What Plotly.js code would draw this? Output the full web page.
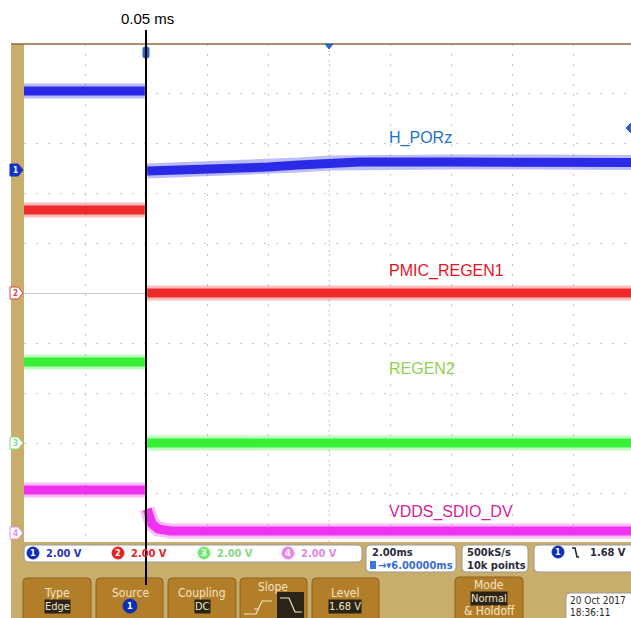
<!DOCTYPE html>
<html>
<head>
<meta charset="utf-8">
<script src="https://cdn.plot.ly/plotly-3.0.1.min.js"></script>
<style>html,body{margin:0;padding:0;background:#fff;overflow:hidden}#chart{width:631px;height:618px}</style>
</head>
<body>
<div id="chart"></div>
<script>
// ---- data (time in ms relative to trigger, level in screen divisions) ----
// null marks the break hidden behind the cursor line
var ch1Time  = [-4, -0.04, null, 0.04, 1, 2, 3, 4, 5, 6, 7, 10, 13, 15.9];
var ch1Level = [4.04, 4.04, null, 2.44, 2.45, 2.46, 2.48, 2.52, 2.56, 2.6, 2.62, 2.62, 2.62, 2.61];
var ch2Time  = [-4, -0.04, null, 0.04, 15.9];
var ch2Level = [1.66, 1.66, null, 0.0, 0.0];
var ch3Time  = [-4, -0.04, null, 0.04, 15.9];
var ch3Level = [-1.38, -1.38, null, -3.0, -3.0];
var ch4Time  = [-4, -0.04, null, 0.04, 0.1, 0.2, 0.4, 0.8, 15.9];
var ch4Level = [-3.94, -3.94, null, -4.32, -4.5, -4.62, -4.72, -4.76, -4.76];
var names = ["H_PORz", "PMIC_REGEN1", "REGEN2", "VDDS_SDIO_DV"];
var scaleLabels = ["2.00 V", "2.00 V", "2.00 V", "2.00 V"];
var cursorLabel = "0.05 ms";
var timebase = ["2.00ms", "6.00000ms"];
var acq = ["500kS/s", "10k points"];
var trigLevel = "1.68 V";
var dateTime = ["20 Oct 2017", "18:36:11"];

// ---- geometry helpers (pixel -> paper) ----
var L = 24, T = 44, PB = 542, PR = 631;
var pw = PR - L, ph = PB - T;
function X(px){ return (px - L) / pw; }
function Y(py){ return (PB - py) / ph; }

var colors = ["#2323e6", "#ee2222", "#2ef02e", "#ee2aee"];
var labelColors = ["#1a74cc", "#e8141e", "#8fd150", "#d91c9c"];

var times = [ch1Time, ch2Time, ch3Time, ch4Time];
var levels = [ch1Level, ch2Level, ch3Level, ch4Level];
var traces = [];
for (var i = 0; i < 4; i++) {
  traces.push({x: times[i], y: levels[i], type: 'scatter', mode: 'lines', hoverinfo: 'skip', connectgaps: false,
    line: {color: colors[i], width: 15}, opacity: 0.3, showlegend: false});
  traces.push({x: times[i], y: levels[i], type: 'scatter', mode: 'lines', hoverinfo: 'skip', connectgaps: false,
    line: {color: colors[i], width: 9}, opacity: 0.95, showlegend: false});
}

var UI = "'DejaVu Sans Condensed', 'Liberation Sans Narrow', 'DejaVu Sans', sans-serif";
var shapes = [];
var anns = [];
function rect(x0, y0, x1, y1, fill, lc, lw, layer){
  shapes.push({type: 'rect', xref: 'paper', yref: 'paper', x0: X(x0), x1: X(x1), y0: Y(y1), y1: Y(y0),
    fillcolor: fill, line: {color: lc || fill, width: lw === undefined ? 0 : lw}, layer: layer || 'above'});
}
function rrect(x0, y0, x1, y1, r, fill, lc, lw){
  var p = 'M' + X(x0 + r) + ',' + Y(y0) + ' L' + X(x1 - r) + ',' + Y(y0) +
    ' Q' + X(x1) + ',' + Y(y0) + ' ' + X(x1) + ',' + Y(y0 + r) +
    ' L' + X(x1) + ',' + Y(y1 - r) + ' Q' + X(x1) + ',' + Y(y1) + ' ' + X(x1 - r) + ',' + Y(y1) +
    ' L' + X(x0 + r) + ',' + Y(y1) + ' Q' + X(x0) + ',' + Y(y1) + ' ' + X(x0) + ',' + Y(y1 - r) +
    ' L' + X(x0) + ',' + Y(y0 + r) + ' Q' + X(x0) + ',' + Y(y0) + ' ' + X(x0 + r) + ',' + Y(y0) + ' Z';
  shapes.push({type: 'path', xref: 'paper', yref: 'paper', path: p, fillcolor: fill,
    line: {color: lc || fill, width: lw || 0}, layer: 'above'});
}
function pathPx(pts, color, w){
  var p = '';
  for (var k = 0; k < pts.length; k++) p += (k ? ' L' : 'M') + X(pts[k][0]) + ',' + Y(pts[k][1]);
  shapes.push({type: 'path', xref: 'paper', yref: 'paper', path: p, line: {color: color, width: w}, layer: 'above'});
}
function circ(cx, cy, r, fill, lc){
  shapes.push({type: 'circle', xref: 'paper', yref: 'paper', x0: X(cx - r), x1: X(cx + r), y0: Y(cy + r), y1: Y(cy - r),
    fillcolor: fill, line: {color: lc || fill, width: 1}, layer: 'above'});
}
function ann(px, py, text, size, color, o){
  o = o || {};
  var a = {xref: 'paper', yref: 'paper', x: X(px), y: Y(py), text: text, showarrow: false,
    font: {family: o.family || UI, size: size, color: color},
    xanchor: o.xanchor || 'center', yanchor: 'middle', borderpad: 0};
  if (o.bg) { a.bgcolor = o.bg; }
  anns.push(a);
}

// frame: left strip and bottom panel
var TAN = '#c8ad6b';
rect(11, 44, 24, 542, TAN);
rect(11, 542, 631, 618, TAN);
pathPx([[11, 44], [631, 44]], '#8c6a3c', 1.5);
// center vertical axis line
shapes.push({type: 'line', xref: 'x', yref: 'paper', x0: 6, x1: 6, y0: 0, y1: 1, line: {color: '#c8c8c8', width: 1, dash: '2px,8px'}, layer: 'below'});

// status boxes
rrect(24, 545, 362, 562, 5, '#ffffff', '#9a9a9a', 1);
rrect(366, 545, 456, 572, 5, '#ffffff', '#9a9a9a', 1);
rrect(462, 545, 528, 572, 5, '#ffffff', '#9a9a9a', 1);
rrect(534, 545, 640, 572, 5, '#ffffff', '#9a9a9a', 1);

var badgeFill = ['#0b2fb8', '#e02424', '#72ea72', '#ea86ea'];
var scaleCol = ['#2536b8', '#e02424', '#86d886', '#e08ae0'];
var badgeX = [33, 118, 204, 288];
for (var i = 0; i < 4; i++) {
  circ(badgeX[i], 553, 6, badgeFill[i]);
  ann(badgeX[i], 553, '<b>' + (i + 1) + '</b>', 9, '#ffffff');
  ann(badgeX[i] + 12, 553, '<b>' + scaleLabels[i] + '</b>', 11, scaleCol[i], {xanchor: 'left'});
}
ann(371, 552, '<b>' + timebase[0] + '</b>', 11, '#2a2a3a', {xanchor: 'left'});
rect(370, 561, 376, 569, '#3a78d8');
ann(377, 565, '<b>\u2192\u25BE' + timebase[1] + '</b>', 11, '#3a6ed0', {xanchor: 'left'});
ann(466, 552, '<b>' + acq[0] + '</b>', 11, '#2a2a3a', {xanchor: 'left'});
ann(466, 565, '<b>' + acq[1] + '</b>', 11, '#2a2a3a', {xanchor: 'left'});
circ(558, 552, 6, '#0b2fb8');
ann(558, 552, '<b>1</b>', 9, '#ffffff');
pathPx([[572, 548], [575, 548], [577, 557], [579, 557]], '#222', 1.5);
ann(627, 552, '<b>' + trigLevel + '</b>', 11, '#2a2a3a', {xanchor: 'right'});

// buttons
var BTN = '#b27e2a', BTNL = '#8e6220', BTXT = '#f4e4c2';
var btns = [[23, 91], [96, 163], [168, 236], [240, 307], [312, 379]];
for (var b = 0; b < btns.length; b++) rrect(btns[b][0], 578, btns[b][1], 622, 4, BTN, BTNL, 1);
rrect(455, 577, 523, 622, 4, BTN, BTNL, 1);
ann(57, 593, 'Type', 12, BTXT);
ann(57, 606, 'Edge', 11, '#f4e4c2', {bg: '#2a2418'});
ann(130, 593, 'Source', 12, BTXT);
circ(130, 606, 7, '#0b2fb8');
ann(130, 606, '<b>1</b>', 9, '#ffffff');
ann(202, 593, 'Coupling', 12, BTXT);
ann(202, 606, 'DC', 11, '#f4e4c2', {bg: '#2a2418'});
ann(273, 587, 'Slope', 12, BTXT);
pathPx([[244, 614], [256, 614], [262, 601], [272, 601]], '#f4e4c2', 1.2);
pathPx([[254, 609], [259, 609]], '#f4e4c2', 1);
rect(277, 592, 304, 618, '#2a2418');
pathPx([[280, 598], [289, 598], [295, 612], [302, 612]], '#f4e4c2', 1.2);
ann(345, 593, 'Level', 12, BTXT);
ann(345, 606, trigLevel, 11, '#f4e4c2', {bg: '#2a2418'});
ann(489, 585, 'Mode', 12, BTXT);
ann(489, 598, 'Normal', 11, '#f4e4c2', {bg: '#2a2418'});
ann(489, 611, '&amp; Holdoff', 12, BTXT);
rrect(566, 593, 640, 622, 4, '#ffffff', '#9a9a9a', 1);
ann(569, 600, dateTime[0], 10, '#2a2a2a', {xanchor: 'left'});
ann(569, 612, dateTime[1], 10, '#2a2a2a', {xanchor: 'left'});

// left ground markers
var gndY = [170, 293, 443, 533];
var mFill = ['#1233c4', '#ffffff', '#ffffff', '#ffffff'];
var mLine = ['#1233c4', '#e04040', '#7ee07e', '#e68ae6'];
var mTxt = ['#ffffff', '#e04040', '#7ee07e', '#e68ae6'];
for (var i = 0; i < 4; i++) {
  var y = gndY[i];
  shapes.push({type: 'path', xref: 'paper', yref: 'paper',
    path: 'M' + X(10) + ',' + Y(y - 6) + ' L' + X(18) + ',' + Y(y - 6) + ' L' + X(23) + ',' + Y(y) + ' L' + X(18) + ',' + Y(y + 6) + ' L' + X(10) + ',' + Y(y + 6) + ' Z',
    fillcolor: mFill[i], line: {color: mLine[i], width: 1}, layer: 'above'});
  ann(15, y, '<b>' + (i + 1) + '</b>', 8, mTxt[i]);
}

// top markers: trigger position and center
rrect(143, 47, 149, 58, 2, '#2a64c8', '#2a64c8', 1);
shapes.push({type: 'path', xref: 'paper', yref: 'paper',
  path: 'M' + X(325) + ',' + Y(44) + ' L' + X(333) + ',' + Y(44) + ' L' + X(329) + ',' + Y(49) + ' Z',
  fillcolor: '#2a64c8', line: {color: '#2a64c8', width: 1}, layer: 'above'});
shapes.push({type: 'path', xref: 'paper', yref: 'paper',
  path: 'M' + X(626) + ',' + Y(128) + ' L' + X(631) + ',' + Y(123) + ' L' + X(631) + ',' + Y(133) + ' Z',
  fillcolor: '#2a64c8', line: {color: '#2a64c8', width: 1}, layer: 'above'});

// cursor line
shapes.push({type: 'line', xref: 'x', yref: 'paper', x0: 0, x1: 0, y0: Y(585), y1: Y(30),
  line: {color: '#000000', width: 2}, layer: 'above'});
ann(147, 18, cursorLabel, 15, '#000000', {family: 'Liberation Sans, Arial, sans-serif'});

// channel labels
var labY = [138, 271, 368, 512];
for (var i = 0; i < 4; i++) {
  ann(388, labY[i], names[i], 16, labelColors[i], {xanchor: 'left', family: 'Liberation Sans, Arial, sans-serif'});
}

var layout = {
  width: 631, height: 618,
  margin: {l: L, r: 0, t: T, b: 618 - PB, pad: 0},
  paper_bgcolor: '#ffffff', plot_bgcolor: '#ffffff',
  showlegend: false,
  xaxis: {range: [-4, 15.9], dtick: 2, tick0: 0, showgrid: true, gridcolor: '#c4c4c4', griddash: '2px,8px',
    gridwidth: 1, zeroline: false, showticklabels: false, ticks: '', showline: false, fixedrange: true},
  yaxis: {range: [-4.98, 4.98], dtick: 1, tick0: 0, showgrid: true, gridcolor: '#c4c4c4', griddash: '2px,10px',
    gridwidth: 1, zeroline: true, zerolinecolor: '#c8c8c8', zerolinewidth: 1, showticklabels: false, ticks: '',
    showline: false, fixedrange: true},
  shapes: shapes,
  annotations: anns
};
Plotly.newPlot('chart', traces, layout, {displayModeBar: false, staticPlot: true});
</script>
</body>
</html>
